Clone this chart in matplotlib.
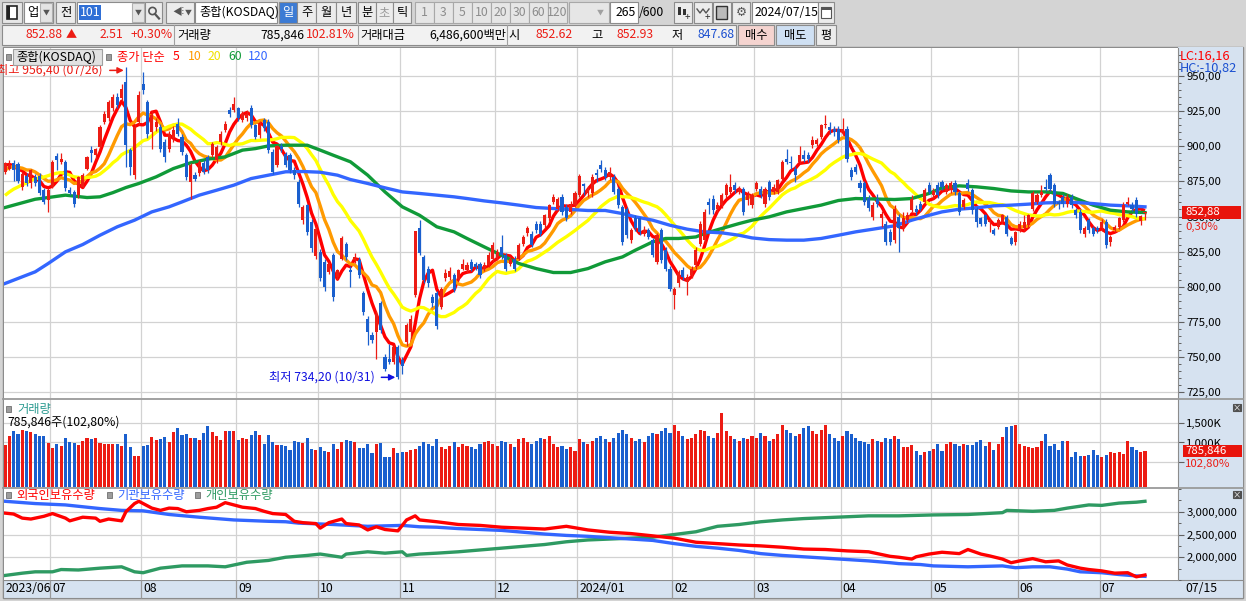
import numpy as np
import pandas as pd
import matplotlib
matplotlib.use('Agg')
import matplotlib.pyplot as plt
from matplotlib.patches import Rectangle, Circle
from matplotlib.ticker import FixedLocator, MultipleLocator, FuncFormatter
from matplotlib.transforms import blended_transform_factory, offset_copy

plt.rcParams['font.family'] = ['Noto Sans CJK KR', 'DejaVu Sans']
plt.rcParams['axes.unicode_minus'] = False

# ---------------- data ----------------
month_labels = ['2023/06', '07', '08', '09', '10', '11', '12',
                '2024/01', '02', '03', '04', '05', '06', '07']
month_days = [11, 21, 22, 19, 19, 22, 19, 22, 19, 20, 21, 20, 19, 11]

# closes before the visible window, only used to seed MA5/10/20
pre_close = [838, 842, 845, 848, 850, 846, 849, 852, 850, 850,
             868, 876, 882, 885, 886.5, 884, 887, 888, 885.5]

opens = [
    882, 884, 888, 887, 871, 879, 873.5, 878, 879, 868.7, 861.5,
    871, 893, 889, 889, 868.7, 867.5, 865.2, 871, 884, 897, 893.6, 899.5, 917.3, 919.7, 926.8, 935, 934, 945.7, 897, 879.4, 917.3,
    944.5, 931.5, 910, 913.7, 913.7, 903, 898.3, 905.5, 916, 906.6, 893.6, 874.6, 879.4, 880.6, 887.7, 892.4, 893.6, 890, 903, 911.4, 925.6, 925.6,
    926.8, 918.5, 919.7, 926.8, 914.9, 907.8, 918.5, 917.3, 896, 886.5, 900, 894.8, 893.6, 882.9, 874.6, 847.4, 858, 846.2, 822,
    825, 817.8, 810.7, 822.5, 807.1, 820.1, 830.8, 811.8, 819, 819, 795.3, 777.5, 765.6, 768, 788.2, 750.2, 749, 746.7, 757.3,
    748, 761, 768, 794.1, 841.5, 821.3, 813, 793, 795.7, 786, 806, 807, 808.3, 805.9, 813, 811.8, 817.8, 816.6, 816.6, 813, 815.4, 820,
    821.3, 828.4, 822.5, 816.6, 820.1, 820.1, 830.8, 838, 837.9, 845, 845, 843.8, 848.6, 860.4, 855.7, 864, 856.9, 853.3, 858.1,
    865.2, 873, 866.4, 866.4, 880.6, 886.5, 882.9, 878.2, 878.2, 869.9, 856.9, 855.7, 833.2, 848.6, 848.6, 837.9, 840.3, 833.2, 817.8, 840.3, 826.1, 813,
    794.1, 802.4, 811.8, 803.6, 808.3, 815.4, 830.8, 833.2, 860.4, 862.8, 855.7, 858.1, 865.2, 867.5, 872.3, 867.5, 869.9, 861.6, 858.1,
    869.9, 869.9, 859.2, 874.6, 867.5, 867.5, 877, 891.2, 888.9, 884.1, 888.9, 893.6, 894, 900.7, 901.9, 906.6, 914.9, 913.7, 912, 912,
    910.2, 912, 882.9, 885.3, 874, 873.5, 863, 849.8, 862.8, 848.6, 845, 839.1, 833.2, 849.8, 841.5, 847.4, 854.5, 855.7, 859.2, 860.4, 872.3,
    865.2, 872.3, 874.6, 867.5, 868.7, 873.5, 866.4, 856.9, 873.5, 868.7, 855.7, 848.6, 850.9, 846.2, 840.3, 842.7, 846.2, 849.8, 834.8, 832,
    840.3, 841.5, 843.8, 855.7, 860.4, 865.2, 871.1, 879.4, 872.3, 860.4, 864, 859.2, 864, 854.5, 853.3, 837.9, 847.4, 841.5, 841.5,
    841.5, 846.2, 832, 840.3, 842.7, 847.4, 859.2, 858.1, 861.6, 847, 852.62,
]
highs = [
    889, 890, 890, 889, 882, 881, 884, 880, 881, 870, 870,
    890, 895, 895, 890, 871, 869, 879, 881, 893, 900, 899, 915, 925, 933, 937, 938, 944, 956.4, 899, 916, 939,
    952.8, 933, 925, 920, 916, 905, 911, 914, 920, 909, 895, 888, 882, 890, 890, 894, 903, 901, 911, 918, 928, 935,
    928, 925, 926, 929, 916, 918, 920, 919, 898, 901, 902, 896, 895, 885, 877, 858, 859, 848, 843,
    827, 820, 818, 824, 813, 836, 832, 815, 824, 821, 797, 779, 768, 783, 790, 752, 759.7, 758.5, 759,
    750, 774, 779.9, 840, 847.4, 823, 815, 795, 797, 800, 813, 814, 810, 813, 820, 818, 820, 818, 818, 818, 825, 832,
    827, 836.7, 824, 822, 822, 831, 837, 843, 840, 847, 847, 852, 859, 866, 864, 866, 859, 861, 868,
    880, 874, 872, 880, 884, 890, 885, 885.3, 880, 871, 858, 857, 842, 851, 850, 843, 842, 835, 838, 842, 828, 815,
    800, 812, 814, 809, 815, 828, 847, 855, 863, 865, 860, 867, 874, 880, 874.6, 872, 871, 868, 867,
    875, 872, 871, 876, 873, 877, 890, 898, 893, 886, 900, 897, 896, 907, 906, 916, 922.5, 917, 914, 914,
    919.7, 914, 885, 887, 876, 875, 865, 860, 866, 854, 847, 841, 858, 852, 853.3, 853, 865, 858, 861, 870, 874.6,
    870, 874.6, 876, 874, 875, 876, 868, 863, 877, 870, 857, 850, 852, 849, 842, 849, 852, 851, 836, 840,
    847, 850.9, 852, 868, 867, 872.3, 877, 881, 874, 862, 866, 866, 866, 856, 855, 843, 849, 843, 843,
    848, 848, 837, 844, 850, 860, 864, 860.4, 864, 851, 852.93,
]
lows = [
    880, 883, 875, 874, 869, 872, 870, 872, 865, 859, 853,
    870, 883, 887, 868, 865, 857, 863, 870, 883, 889, 891, 898, 916, 918, 925, 927, 932, 885.3, 879.4, 877, 915,
    937, 906, 898.3, 911, 896, 889, 896, 903, 907, 894, 876, 862.8, 875, 879, 880, 881, 892, 888, 901, 910, 921, 924,
    918, 917, 918, 913, 905, 906, 911, 895, 880, 885, 896, 885, 881, 877, 857, 845, 837, 825, 820,
    804, 797, 809, 790, 805, 819, 819, 800, 817, 806, 780, 758.5, 760, 749, 767, 740, 745, 745, 734.2,
    738, 758, 763.3, 793, 823, 803, 800, 786, 770, 784, 804, 805, 796, 804, 812, 810, 811, 812, 806, 811, 814, 818,
    819, 820, 811, 815, 811, 819, 829, 836, 828, 838, 836, 842, 847, 859, 854, 851, 847, 852, 857,
    864, 865, 864, 864, 874.6, 882, 876, 876, 866, 856, 830, 835, 831, 840, 837, 836, 834, 821, 816, 817, 811, 797,
    784.6, 800, 805, 794, 806, 813, 829, 831, 852, 852, 853, 856, 863, 866, 867, 866, 851, 858, 856,
    868, 863, 857, 862, 866, 866, 875, 887, 884, 874.6, 887, 889, 889, 899, 900, 905, 913, 909, 907, 902,
    908, 889, 876, 880, 867.5, 858, 854, 847.4, 857, 842.7, 829.6, 830, 831, 824.9, 840, 846, 853, 851, 854, 859, 866,
    863, 863, 869, 866, 867, 865, 851, 855, 868, 852, 842.7, 843, 843, 839, 836.7, 841, 845, 836, 829.6, 829.6,
    839, 840, 842, 854, 859, 864, 868, 868, 857, 855, 857, 857, 856, 849, 838, 835.5, 838, 836, 838,
    840, 827.7, 828.9, 839, 841, 846, 858, 854, 850, 843.8, 847.68,
]
closes = [
    888, 886.5, 883, 875, 880.5, 873.5, 883, 873.5, 866.5, 860.5, 868.7,
    889, 890.5, 891, 870, 866.4, 859.2, 878, 879.4, 892.4, 895, 898.3, 913.7, 923.2, 931.5, 935.1, 929, 941, 900.7, 885.3, 913.7, 936.3,
    939.8, 909, 922, 917.3, 898.3, 892.4, 909, 911.4, 909, 896, 878.2, 886.5, 877, 888.9, 881.8, 882.9, 901.9, 899.5, 909, 916.1, 923.2, 930.3,
    919.7, 923.2, 923.2, 914.9, 906.6, 916.1, 912.6, 897.2, 881.8, 900, 898, 886.5, 882.9, 879.4, 859.2, 856.9, 839, 827.3, 841,
    806, 800, 816.6, 792.9, 811.8, 834.8, 821.3, 810.7, 821.3, 808.3, 782.2, 768, 762.1, 781, 769.2, 741.9, 746.7, 757.3, 736.1,
    743.5, 772.7, 777.5, 839.45, 824.4, 804.7, 802.4, 788.2, 772, 798.5, 810, 811, 797.6, 811.8, 816.6, 815.4, 813, 814.2, 808.3, 815.4, 822.5, 829.6,
    824.9, 822.5, 813, 820.1, 813, 829.6, 835.5, 841.5, 829.6, 840.3, 837.9, 850.9, 858.1, 864, 862.8, 853.3, 848.6, 859.2, 866.57,
    878.93, 871.57, 869.9, 878.2, 879.4, 884.1, 878.2, 881.8, 867.5, 858.1, 832, 836.7, 840.3, 841.5, 839.1, 840.3, 835.5, 822.5, 836.7, 819, 813, 798.8,
    798.8, 810.7, 807.1, 807.1, 813, 826.1, 845, 853.3, 858.1, 854.5, 858.1, 865.2, 872.3, 871.1, 868.7, 869.9, 853.3, 865.2, 865.2,
    873.5, 865.2, 869.9, 864, 871.1, 875.8, 888.9, 888.9, 887.7, 879.4, 894, 891.2, 891.2, 904.3, 904.3, 914.9, 916.1, 911.4, 909.8, 904.3,
    912, 891.2, 878.2, 881.8, 870, 860.4, 856, 858.1, 859.2, 852.1, 832, 832, 855.7, 841.5, 848.6, 850.9, 862.8, 853.3, 855.7, 868.7, 867.5,
    868, 865.2, 871.1, 872.3, 873.5, 867.5, 853.3, 861.6, 869.9, 854.5, 846.2, 845, 845, 847.4, 837.9, 847.4, 850.9, 837.9, 830.8, 839.1,
    845, 846.2, 850.9, 866.4, 865.2, 867.5, 869.9, 869.9, 859.2, 859.2, 859.2, 864, 858.1, 850.9, 840.3, 841.5, 840.3, 837.9, 840.44,
    846.2, 829.6, 835.5, 842.7, 848.6, 858.5, 860.4, 855.7, 852.1, 850.37, 852.88,
]
volume_k = [
    942, 1166, 1307, 1207, 1332, 1291, 1274, 1207, 1157, 1157, 982,
    866, 957, 907, 1124, 1024, 991, 941, 1041, 1107, 1091, 1124, 999, 958, 974, 958, 958, 907, 1224, 874, 657, 657,
    907, 932, 1132, 1066, 1099, 1141, 1007, 1257, 1382, 1191, 1207, 1116, 1116, 1066, 1232, 1432, 1257, 1166, 1074, 1307, 1282, 1282,
    1066, 1107, 1091, 1191, 1282, 1191, 958, 1182, 1024, 941, 941, 916, 816, 1041, 1024, 999, 1107, 832, 816,
    874, 791, 749, 958, 832, 1024, 1066, 1041, 1024, 858, 858, 958, 724, 958, 999, 624, 624, 858, 741,
    766, 766, 799, 832, 916, 1000, 958, 916, 1083, 874, 833, 916, 1000, 874, 958, 916, 874, 833, 958, 1000, 1041, 958,
    916, 1041, 1000, 958, 874, 1083, 1125, 1000, 958, 1041, 1125, 1083, 1166, 958, 874, 916, 833, 874, 791,
    1083, 1000, 958, 1041, 1125, 1166, 1083, 1000, 1125, 1250, 1333, 1208, 1125, 1041, 1083, 1000, 1166, 1250, 1208, 1291, 1375, 1250,
    1458, 1291, 1166, 1083, 1125, 1208, 1333, 1291, 1166, 1125, 1250, 1750, 1291, 1166, 1083, 1041, 1125, 1083, 1166,
    1125, 1250, 1166, 1041, 1083, 1208, 1458, 1333, 1250, 1166, 1208, 1375, 1416, 1291, 1208, 1333, 1458, 1208, 1125, 1041,
    1166, 1291, 1208, 1125, 1041, 1000, 958, 1083, 1041, 1000, 1125, 1083, 1166, 1100, 891, 891, 932, 791, 683, 766, 791,
    833, 958, 791, 958, 1008, 974, 899, 958, 932, 932, 1016, 1058, 916, 1008, 816, 958, 1141, 1391, 1416, 1458,
    958, 916, 891, 849, 874, 1033, 1208, 899, 958, 816, 1033, 1033, 616, 758, 657, 641, 683, 807, 683,
    616, 683, 749, 732, 749, 716, 1033, 891, 807, 764.4, 785.846,
]

# moving averages 60 / 120 read directly (their history starts before the window)
ma60_bar = [0, 7, 10, 14, 19, 22, 25, 28, 31, 35, 39, 43, 47, 51, 55, 58, 61, 65, 70, 73, 76, 80, 84, 88,
            92, 96, 100, 104, 107, 111, 115, 119, 123, 127, 131, 135, 139, 143, 146, 150, 153, 156, 160,
            162, 166, 170, 173, 177, 181, 185, 189, 193, 197, 201, 206, 210, 214, 217, 221, 225, 229, 233,
            237, 241, 245, 248, 252, 256, 260, 264]
ma60_val = [856.4, 862.3, 863.5, 865.2, 863.5, 864, 867, 870.6, 873.5, 878.2, 884.1, 888.2, 890.8, 892.4,
            897.2, 898.3, 900.2, 900.7, 900.7, 897.2, 893.6, 888.9, 879.4, 867.5, 856.9, 850.9, 842.7,
            839.1, 834.4, 828.4, 822.5, 816.6, 813, 810.2, 810.2, 813, 817.8, 821.3, 826.1, 832, 834.4,
            834.4, 835.5, 837.9, 841.5, 845, 847.4, 849.8, 853.3, 855.7, 858.1, 861.4, 862.8, 862.5, 862.1,
            862.8, 866.4, 870.4, 871.8, 871.1, 869.9, 868.2, 867.5, 867.5, 866.4, 862.8, 858.1, 854.5,
            853.3, 852.8]
ma120_bar = [0, 7, 10, 14, 18, 22, 26, 30, 34, 38, 41, 45, 49, 53, 57, 61, 65, 69, 73, 77, 80, 84, 88,
             92, 96, 100, 104, 107, 111, 115, 119, 123, 127, 131, 135, 139, 143, 146, 150, 154, 158, 162,
             166, 170, 173, 177, 181, 185, 189, 193, 197, 201, 206, 210, 214, 217, 221, 225, 229, 233, 237,
             241, 245, 248, 252, 256, 260, 264]
ma120_val = [802.4, 810.7, 816.6, 824.9, 830.1, 836.7, 842.7, 847.4, 853.3, 856.9, 860.4, 865.2, 868.7,
             872.3, 877, 879.4, 881.8, 882, 881.5, 879.4, 876.3, 873.5, 870.4, 867.5, 866.4, 865.2, 864,
             862.8, 861.1, 859.7, 858.1, 856.4, 855.7, 855, 854.3, 854.3, 852.1, 849.8, 847.4, 843.8, 841,
             839.1, 838.4, 836.7, 834.8, 833.6, 833.2, 833.2, 834.4, 836.7, 839.1, 841, 843.4, 847.4, 850.9,
             853.3, 855.2, 856.2, 857.6, 858.1, 858.8, 859.7, 860, 860, 859.2, 858.1, 857.6, 856.9]

# holdings panel (millions), read at the bars where the line bends
foreign_bar = [0, 2, 4, 6, 9, 11, 14, 15, 18, 21, 22, 24, 27, 28, 30, 31, 34, 36, 38, 40, 42, 45, 47,
               49, 51, 53, 55, 58, 60, 62, 65, 67, 69, 72, 73, 75, 78, 79, 82, 84, 86, 88, 91, 93, 95,
               96, 100, 105, 110, 115, 120, 125, 130, 135, 140, 145, 150, 155, 160, 165, 170, 175, 180,
               185, 190, 195, 200, 205, 207, 210, 211, 214, 217, 221, 223, 226, 228, 231, 233, 235, 238,
               241, 244, 246, 249, 251, 254, 257, 260, 262, 264]
foreign_m = [2.97, 2.95, 2.86, 2.84, 2.90, 2.96, 2.86, 2.80, 2.88, 2.86, 2.79, 2.84, 2.80, 3.00, 3.18,
             3.23, 3.08, 3.03, 3.08, 3.07, 3.00, 3.03, 3.07, 3.10, 3.20, 3.15, 3.10, 3.07, 3.01, 2.96,
             2.94, 2.79, 2.76, 2.74, 2.64, 2.76, 2.84, 2.74, 2.71, 2.60, 2.67, 2.61, 2.58, 2.82, 2.91,
             2.82, 2.78, 2.72, 2.70, 2.66, 2.64, 2.62, 2.68, 2.60, 2.55, 2.52, 2.47, 2.42, 2.33, 2.30,
             2.27, 2.25, 2.22, 2.18, 2.17, 2.14, 2.12, 2.02, 2.00, 1.96, 2.01, 2.07, 2.11, 2.08, 2.17,
             2.07, 2.03, 1.96, 1.88, 1.92, 1.97, 1.90, 1.92, 1.83, 1.76, 1.73, 1.70, 1.65, 1.66, 1.57,
             1.61]
inst_bar = [0, 7, 14, 22, 27, 32, 38, 45, 53, 61, 65, 68, 76, 84, 92, 96, 100, 105, 110, 115, 120, 125,
            130, 135, 140, 145, 150, 155, 160, 165, 170, 175, 180, 185, 190, 195, 200, 205, 207, 212, 215,
            223, 231, 234, 238, 242, 246, 249, 254, 258, 262, 264]
inst_m = [3.23, 3.18, 3.15, 3.07, 3.03, 3.02, 2.94, 2.88, 2.82, 2.79, 2.78, 2.75, 2.72, 2.68, 2.70, 2.67,
          2.66, 2.63, 2.61, 2.59, 2.55, 2.51, 2.48, 2.46, 2.43, 2.40, 2.37, 2.30, 2.24, 2.20, 2.15, 2.08,
          2.04, 2.01, 1.98, 1.95, 1.92, 1.88, 1.86, 1.84, 1.81, 1.79, 1.81, 1.77, 1.79, 1.79, 1.74, 1.68,
          1.66, 1.62, 1.59, 1.58]
retail_bar = [0, 4, 7, 11, 13, 17, 22, 27, 30, 32, 36, 41, 47, 51, 56, 61, 65, 70, 73, 78, 79, 84, 88,
              92, 93, 96, 100, 105, 110, 115, 120, 125, 130, 135, 140, 145, 150, 155, 160, 165, 170,
              175, 180, 185, 190, 195, 200, 205, 207, 215, 223, 231, 232, 238, 243, 246, 251, 254, 258,
              262, 264]
retail_m = [1.60, 1.65, 1.68, 1.68, 1.73, 1.72, 1.76, 1.79, 1.68, 1.66, 1.76, 1.81, 1.81, 1.79, 1.89,
            1.93, 2.00, 2.04, 2.07, 2.00, 2.07, 2.12, 2.09, 2.12, 2.04, 2.07, 2.09, 2.12, 2.16, 2.20,
            2.24, 2.28, 2.34, 2.38, 2.40, 2.42, 2.44, 2.50, 2.56, 2.68, 2.72, 2.78, 2.82, 2.85, 2.87,
            2.89, 2.91, 2.91, 2.91, 2.93, 2.94, 2.98, 3.03, 3.01, 3.03, 3.08, 3.15, 3.14, 3.19, 3.21,
            3.23]

# ---------------- colours ----------------
RED = '#ec1c14'
BLUE = '#1a5fce'
MA_COL = {5: '#ff0000', 10: '#ff9a00', 20: '#ffff00', 60: '#109a38', 120: '#3366ff'}
GRID = '#d2d2d2'
AXBG = '#d6e2f0'
BG = '#d4d4d4'

# ---------------- figure ----------------
W, H = 1246, 601
fig = plt.figure(figsize=(W / 100, H / 100), dpi=100)


def px_axes(x0, y0, x1, y1):
    return fig.add_axes([x0 / W, 1 - y1 / H, (x1 - x0) / W, (y1 - y0) / H])


ui = px_axes(0, 0, W, H)
ui.set_xlim(0, W)
ui.set_ylim(H, 0)
ui.axis('off')


def box(x0, y0, x1, y1, fc, ec='#8c8c8c', lw=0.8, on=None):
    (on or ui).add_patch(Rectangle((x0, y0), x1 - x0, y1 - y0, facecolor=fc, edgecolor=ec, linewidth=lw))


def txt(x, y, s, color='black', size=8.8, ha='left', on=None, **kw):
    (on or ui).text(x, y, s, color=color, fontsize=size, ha=ha, va='center', **kw)


ui.add_patch(Rectangle((0, 0), W, H, facecolor=BG, edgecolor='none'))

# toolbar row
box(2, 2, 22, 23, '#e6e6e6')
box(7, 6, 17, 19, 'white', ec='#222222', lw=1.2)
ui.add_patch(Rectangle((7, 6), 3, 13, facecolor='#222222'))
box(24, 2, 53, 23, 'white')
box(40, 3, 52, 22, '#e4e4e4', ec='#b0b0b0')
txt(27, 12.5, '업')
txt(46, 12.5, '▼', size=5, ha='center', color='#555555')
box(56, 2, 75, 23, '#ececec')
txt(65.5, 12.5, '전', ha='center')
box(77, 2, 144, 23, 'white')
ui.add_patch(Rectangle((79, 5), 22, 15, facecolor='#2f6fd6'))
txt(80, 12.5, '101', color='white')
box(132, 3, 144, 22, '#e4e4e4', ec='#b0b0b0')
txt(138, 12.5, '▼', size=5, ha='center', color='#555555')
box(145, 2, 162, 23, '#ececec')
ui.add_patch(Circle((152.5, 11), 3.6, facecolor='none', edgecolor='#555555', lw=1.2))
ui.plot([155, 159], [14, 18.5], color='#555555', lw=1.6)
box(166, 2, 194, 23, '#ececec')
txt(172, 12.5, '◀', size=7, color='#555555')
txt(181, 12.5, '⁝', size=8, color='#555555')
txt(188, 12.5, '▼', size=5, ha='center', color='#555555')
box(195, 2, 277, 23, 'white')
txt(199, 12.5, '종합(KOSDAQ)')
for (x0, x1), s in zip([(279, 297), (297, 316), (316, 336), (336, 356)], ['일', '주', '월', '년']):
    sel = s == '일'
    box(x0, 2, x1, 23, '#3c7bd4' if sel else '#ececec')
    txt((x0 + x1) / 2, 12.5, s, ha='center', color='white' if sel else 'black')
for (x0, x1), s in zip([(358, 376), (376, 393), (393, 411)], ['분', '초', '틱']):
    box(x0, 2, x1, 23, '#ececec')
    txt((x0 + x1) / 2, 12.5, s, ha='center', color='#9a9a9a' if s == '초' else 'black')
for k, s in enumerate(['1', '3', '5', '10', '20', '30', '60', '120']):
    x0 = 415 + k * 19
    box(x0, 2, x0 + 19, 23, '#e6e6e6', ec='#a8a8a8')
    txt(x0 + 9.5, 12.5, s, ha='center', color='#8c8c8c')
box(569, 2, 609, 23, '#e6e6e6', ec='#a8a8a8')
txt(600, 12.5, '▼', size=5, ha='center', color='#a0a0a0')
box(610, 2, 638, 23, 'white')
txt(636, 12.5, '265', ha='right')
txt(639, 12.5, '/600')
for x0 in (674, 694, 713, 732):
    box(x0, 2, x0 + 18, 23, '#ececec')
ui.add_patch(Rectangle((678, 7), 3, 8, facecolor='#333333'))
ui.add_patch(Rectangle((683, 9), 3, 6, facecolor='#333333'))
txt(687, 17, '+', size=7, color='#333333', ha='center')
ui.plot([697, 700, 703, 706, 709], [9, 13, 9, 13, 9], color='#555555', lw=1)
txt(707, 17, '+', size=7, color='#333333', ha='center')
box(716, 6, 727, 19, '#bbbbbb', ec='#333333', lw=1)
txt(741, 12.5, '⚙', size=9, ha='center', color='#555555')
box(752, 2, 818, 23, 'white')
txt(755, 12.5, '2024/07/15')
box(818, 2, 834, 23, '#ececec')
box(821, 7, 831, 18, 'white', ec='#555555', lw=0.8)
ui.add_patch(Rectangle((821, 7), 10, 3, facecolor='#555555'))

# info row
box(2, 25, 736, 45, '#f2f2f2')
for xs in (174, 358, 507):
    ui.plot([xs, xs], [25, 45], color='#a0a0a0', lw=0.8)
txt(26, 35, '852.88', color=RED)
txt(66, 35, '▲', color=RED, size=8)
txt(123, 35, '2.51', color=RED, ha='right')
txt(173, 35, '+0.30%', color=RED, ha='right')
txt(177, 35, '거래량')
txt(304, 35, '785,846', ha='right')
txt(355, 35, '102.81%', color=RED, ha='right')
txt(360, 35, '거래대금')
txt(506, 35, '6,486,600백만', ha='right')
txt(508, 35, '시')
txt(573, 35, '852.62', color=RED, ha='right')
txt(591, 35, '고')
txt(654, 35, '852.93', color=RED, ha='right')
txt(672, 35, '저')
txt(735, 35, '847.68', color='#1a4fd0', ha='right')
box(738, 25, 774, 45, '#f5d4d0')
txt(756, 35, '매수', ha='center')
box(776, 25, 814, 45, '#cfe0f3')
txt(795, 35, '매도', ha='center')
box(816, 25, 836, 45, '#ececec')
txt(826, 35, '평', ha='center')

# chart frame
box(3, 47, 1243, 598, 'white', ec='#8c8c8c', lw=1)
ui.add_patch(Rectangle((1178, 47), 65, 533, facecolor=AXBG, edgecolor='none'))
box(3, 580, 1243, 598, AXBG, ec='#8c8c8c', lw=0.8)

# ---------------- chart panels ----------------
n = len(closes)
idx = np.arange(n)
starts = np.concatenate([[0], np.cumsum(month_days)[:-1]])
bounds = starts[1:] - 0.5
x_lo, x_hi = -0.23, 271.65

ax1 = px_axes(4, 48, 1178, 398)
ax2 = px_axes(4, 399, 1178, 487)
ax3 = px_axes(4, 489, 1178, 580)


def style(ax, ticks, fmt, minor=None):
    ax.set_xlim(x_lo, x_hi)
    for s in ('left', 'top', 'bottom'):
        ax.spines[s].set_visible(False)
    ax.spines['right'].set_color('#8c8c8c')
    ax.yaxis.tick_right()
    ax.yaxis.set_major_locator(FixedLocator(ticks))
    ax.yaxis.set_major_formatter(FuncFormatter(fmt))
    if minor:
        ax.yaxis.set_minor_locator(MultipleLocator(minor))
    ax.tick_params(axis='y', which='major', length=4, width=0.8, color='#606060', pad=2, labelsize=8.2)
    ax.tick_params(axis='y', which='minor', length=2, width=0.7, color='#606060')
    ax.tick_params(axis='x', bottom=False, labelbottom=False)
    for b in bounds:
        ax.axvline(b, color=GRID, lw=0.9, zorder=0)
    for t in ticks:
        ax.axhline(t, color=GRID, lw=0.9, zorder=0)


# price panel
price_ticks = list(range(725, 951, 25))
style(ax1, price_ticks, lambda v, _: f'{v:.2f}'.replace('.', ','), minor=5)
ax1.set_ylim(721.0, 969.8)

full = pd.Series(pre_close + closes)
npre = len(pre_close)
for p in (5, 10, 20):
    ma = full.rolling(p).mean().to_numpy()[npre:]
    ax1.plot(idx, ma, color=MA_COL[p], lw=2.4, zorder=2, solid_capstyle='butt')
ax1.plot(ma60_bar, ma60_val, color=MA_COL[60], lw=2.4, zorder=2)
ax1.plot(ma120_bar, ma120_val, color=MA_COL[120], lw=2.4, zorder=2)

o = np.array(opens)
c = np.array(closes)
hi = np.array(highs)
lo = np.array(lows)
col = np.where(c >= o, RED, BLUE)
ax1.vlines(idx, lo, hi, colors=col, lw=0.9, zorder=3)
ax1.bar(idx, np.maximum(np.abs(c - o), 0.8), bottom=np.minimum(o, c), width=0.72,
        color=col, lw=0, zorder=4)

ih = int(np.argmax(hi))
il = int(np.argmin(lo))
arrow = dict(arrowstyle='-|>', lw=1.1, shrinkA=0, shrinkB=0, mutation_scale=9)
ax1.annotate('', xy=(ih - 0.5, hi[ih] - 2.5), xytext=(-14, 0), textcoords='offset pixels',
             arrowprops=dict(arrow, color=RED), annotation_clip=False)
ax1.annotate(f'최고 {hi[ih]:.2f} (07/26)'.replace('.', ','), xy=(ih - 0.5, hi[ih] - 2.5),
             xytext=(-21, 0), textcoords='offset pixels', ha='right', va='center',
             color=RED, fontsize=8.8, annotation_clip=False)
ax1.annotate('', xy=(il - 0.6, lo[il] + 1.5), xytext=(-14, 0), textcoords='offset pixels',
             arrowprops=dict(arrow, color='#1010e0'), annotation_clip=False)
ax1.annotate(f'최저 {lo[il]:.2f} (10/31)'.replace('.', ','), xy=(il - 0.6, lo[il] + 1.5),
             xytext=(-21, 0), textcoords='offset pixels', ha='right', va='center',
             color='#1010e0', fontsize=8.8, annotation_clip=False)

right1 = blended_transform_factory(ax1.transAxes, ax1.transData)
ax1.add_patch(Rectangle((1.0034, c[-1] - 4.6), 0.0503, 9.4, transform=right1,
                        facecolor='#e8140c', edgecolor='none', clip_on=False, zorder=6))
ax1.text(1.006, c[-1], f'{c[-1]:.2f}'.replace('.', ','), transform=right1, color='white',
         fontsize=8.2, va='center', ha='left', zorder=7, clip_on=False)
ax1.text(1.006, c[-1] - 10.5, '0,30%', transform=right1, color=RED,
         fontsize=8.2, va='center', ha='left', zorder=7, clip_on=False)

# volume panel
vol_lo, vol_hi = -141, 2115
style(ax2, [500, 1000, 1500], lambda v, _: f'{int(v):,}K' if v >= 1000 else '')
ax2.set_ylim(vol_lo, vol_hi)
vol = np.array(volume_k)
ax2.bar(idx, vol - vol_lo, bottom=vol_lo, width=0.72, color=col, lw=0, zorder=3)
right2 = blended_transform_factory(ax2.transAxes, ax2.transData)
ax2.add_patch(Rectangle((1.004, vol[-1] - 150), 0.0503, 300, transform=right2,
                        facecolor='#e8140c', edgecolor='none', clip_on=False, zorder=6))
ax2.text(1.006, vol[-1], f'{int(round(vol[-1] * 1000)):,}', transform=right2, color='white',
         fontsize=8.2, va='center', ha='left', zorder=7, clip_on=False)
ax2.text(1.006, vol[-1] - 340, '102,80%', transform=right2, color=RED,
         fontsize=8.2, va='center', ha='left', zorder=7, clip_on=False)

# holdings panel
style(ax3, [2.0e6, 2.5e6, 3.0e6], lambda v, _: f'{int(v):,}', minor=2.5e5)
ax3.set_ylim(1.5e6, 3.5e6)
ax3.plot(retail_bar, np.array(retail_m) * 1e6, color='#2e9a62', lw=2.4, zorder=2)
ax3.plot(inst_bar, np.array(inst_m) * 1e6, color='#3366ff', lw=2.4, zorder=3)
ax3.plot(foreign_bar, np.array(foreign_m) * 1e6, color='#ff0000', lw=2.4, zorder=4)

# date strip
strip = blended_transform_factory(ax3.transData, ax3.transAxes)
ax3.vlines(bounds, -0.2, 0, transform=strip, color='#9a9a9a', lw=0.9, clip_on=False)
lab_tr = offset_copy(strip, fig=fig, x=2, y=0, units='dots')
for s, lab in zip(starts, month_labels):
    xpos = x_lo if s == 0 else s - 0.5
    ax3.text(xpos, -0.098, lab, transform=lab_tr, fontsize=8.8, va='center', ha='left', clip_on=False)
ax3.text(1.006, -0.098, '07/15', transform=ax3.transAxes, fontsize=8.8, va='center', ha='left',
         clip_on=False)

# ---------------- overlay texts ----------------
top = px_axes(0, 0, W, H)
top.set_xlim(0, W)
top.set_ylim(H, 0)
top.axis('off')
top.set_zorder(10)

for yy in (398.5, 488):
    top.plot([3, 1243], [yy, yy], color='#9a9a9a', lw=1.3)


def sq(x, y):
    box(x, y - 3, x + 5, y + 3, '#9c9c9c', ec='#707070', lw=0.6, on=top)


sq(6, 57)
box(13, 49, 102, 65, '#e2e2e2', ec='#a0a0a0', on=top)
txt(16, 57, '종합(KOSDAQ)', on=top)
sq(106, 57)
txt(117, 57, '종가 단순', color='#ff0000', on=top)
for xx, s, cc in [(173, '5', '#ff0000'), (188, '10', '#ff9a00'), (208, '20', '#f0e000'),
                  (228, '60', '#109a38'), (248, '120', '#3366ff')]:
    txt(xx, 57, s, color=cc, on=top)

txt(1180, 56, 'LC:16,16', color='#ff0000', size=9.2, on=top)
txt(1180, 68, 'HC:-10,82', color='#1a4fd0', size=9.2, on=top)

sq(6, 409)
txt(17, 409, '거래량', color='#2a9a90', on=top)
txt(7, 422, '785,846주(102,80%)', on=top)

sq(6, 495)
txt(16, 495, '외국인보유수량', color='#ff0000', on=top)
sq(107, 495)
txt(117, 495, '기관보유수량', color='#3366ff', on=top)
sq(195, 495)
txt(205, 495, '개인보유수량', color='#2e9a62', on=top)

for yy in (404, 491):
    box(1233, yy, 1241, yy + 7, '#505050', ec='#505050', on=top)
    txt(1237, yy + 3.5, '×', color='white', size=6, ha='center', on=top)

fig.savefig('out.png', dpi=100)
